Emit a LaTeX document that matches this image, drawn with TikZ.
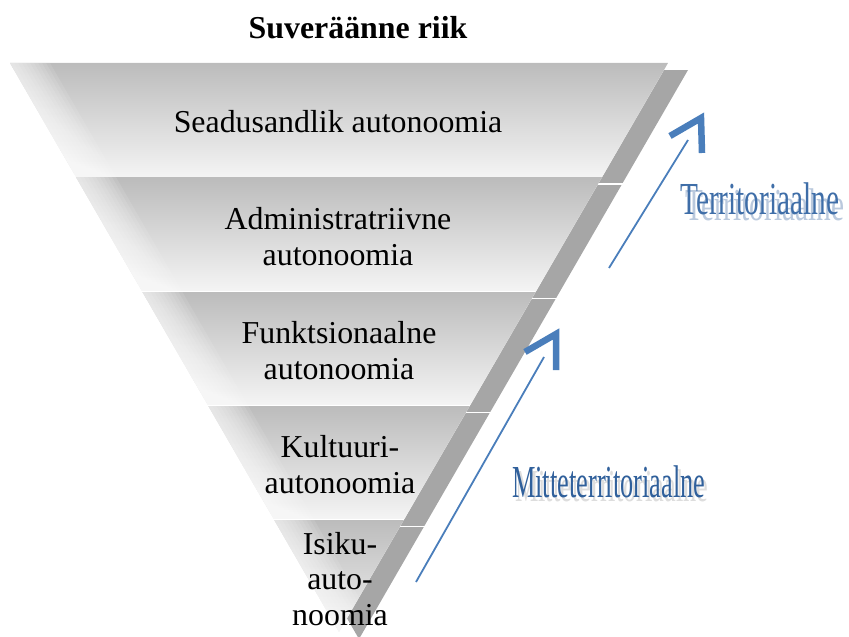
\documentclass[tikz,border=0pt]{standalone}
\usepackage{fontspec}
\setmainfont{Liberation Serif}
\definecolor{shadowgray}{HTML}{A6A6A6}
\definecolor{bandtop}{HTML}{BCBCBC}
\definecolor{bandbot}{HTML}{F4F4F4}
\definecolor{arrowblue}{HTML}{4A7EBB}
\definecolor{terrblue}{HTML}{3F6EA8}
\definecolor{mitteblue}{HTML}{30609B}
\definecolor{terrshadow}{HTML}{9DB2CF}
\begin{document}
\begin{tikzpicture}[x=1bp,y=-1bp,
  bandtext/.style={align=center, font=\fontsize{32}{36}\selectfont, inner sep=0pt},
  thinarrow/.style={draw=arrowblue, line width=1.8bp},
  chevron/.style={draw=arrowblue, line width=6.5bp, miter limit=10, line join=miter, line cap=butt},
  sidelabel/.style={anchor=base west, inner sep=0pt, font=\fontsize{46}{50}\selectfont},
]
\useasboundingbox (0,0) rectangle (849,637);
\def\tri{(10,63) -- (668,63) -- (339,632) -- cycle}
% shadows
\begin{scope}[shift={(20,7)}]
  \clip \tri;
  \foreach \a/\b in {63/176.5,178/290.5,292/404.5,406/518.5,520/640}
    \fill[shadowgray] (0,\a) rectangle (849,\b);
\end{scope}
% bands
\fill[white] \tri;
\begin{scope}
  \clip \tri;
  \foreach \a/\b in {63/176.5,178/290.5,292/404.5,406/518.5,520/640}
    \shade[top color=bandtop, bottom color=bandbot] (0,\a) rectangle (849,\b);
  \foreach \i in {1,...,10}{
    \fill[white, opacity=0.1] (0,63) -- ({10+4*\i},63) -- ({339+4*\i},632) -- (0,632) -- cycle;
  }
\end{scope}
% texts
\node[font=\fontsize{32}{38}\selectfont\bfseries, inner sep=0pt] (title) at (358,28) {Suveräänne riik};
\node[bandtext] (t1) at (338,122) {Seadusandlik autonoomia};
\node[bandtext] (t2) at (338,236.5) {Administratriivne\\autonoomia};
\node[bandtext] (t3) at (339,351) {Funktsionaalne\\autonoomia};
\node[bandtext] (t4) at (340,465) {Kultuuri-\\autonoomia};
\node[bandtext] (t5) at (340,579) {Isiku-\\auto-\\noomia};
% side labels
\node[sidelabel, text=terrshadow, opacity=0.7] (terrsh) at (685,221) {\scalebox{0.64}[1]{Territoriaalne}};
\node[sidelabel, text=terrblue] (terr) at (680,215) {\scalebox{0.64}[1]{Territoriaalne}};
\node[sidelabel, text=gray!45, opacity=0.6] (mittesh) at (515,501) {\scalebox{0.575}[1]{Mitteterritoriaalne}};
\node[sidelabel, text=mitteblue] (mitte) at (512,497) {\scalebox{0.575}[1]{Mitteterritoriaalne}};
% arrows
\coordinate (a1s) at (609,268);
\coordinate (a1e) at (688,140);
\coordinate (a1tip) at (701,118);
\coordinate (a1l) at (670,136);
\coordinate (a1r) at (702,153);
\coordinate (a2s) at (416,582);
\coordinate (a2e) at (544,357);
\coordinate (a2tip) at (556,334);
\coordinate (a2l) at (525,352);
\coordinate (a2r) at (556,370);
\draw[thinarrow] (a1s) -- (a1e);
\draw[chevron] (a1l) -- (a1tip) -- (a1r);
\draw[thinarrow] (a2s) -- (a2e);
\draw[chevron] (a2l) -- (a2tip) -- (a2r);
\end{tikzpicture}
\end{document}
